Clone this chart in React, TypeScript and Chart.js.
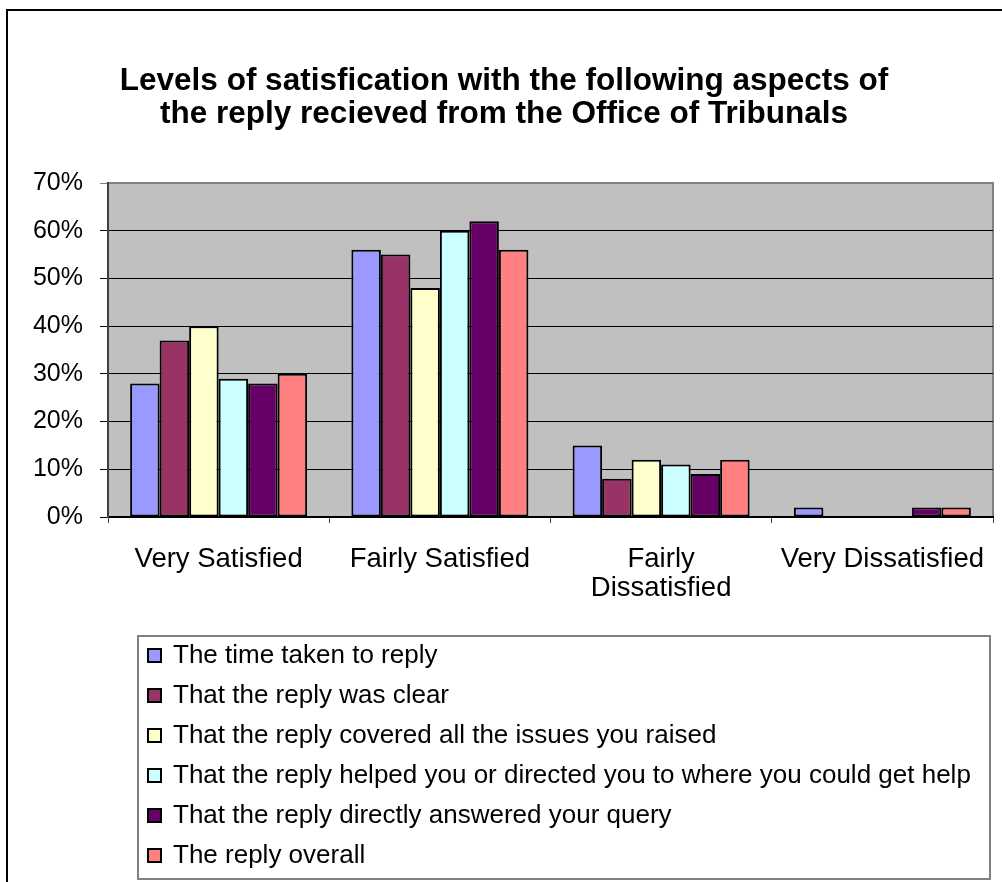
import React, { useEffect, useRef } from "react";
import { Chart, registerables } from "chart.js";

Chart.register(...registerables);

const categories: (string | string[])[] = [
  "Very Satisfied",
  "Fairly Satisfied",
  ["Fairly", "Dissatisfied"],
  "Very Dissatisfied",
];

const seriesLabels = [
  "The time taken to reply",
  "That the reply was clear",
  "That the reply covered all the issues you raised",
  "That the reply helped you or directed you to where you could get help",
  "That the reply directly answered your query",
  "The reply overall",
];

const seriesColors = ["#9999FF", "#993366", "#FFFFCC", "#CCFFFF", "#660066", "#FF8080"];

const timeTaken = [28, 56, 15, 2];
const replyClear = [37, 55, 8, 0];
const coveredIssues = [40, 48, 12, 0];
const helpedDirected = [29, 60, 11, 0];
const directlyAnswered = [28, 62, 9, 2];
const replyOverall = [30, 56, 12, 2];

const seriesValues = [timeTaken, replyClear, coveredIssues, helpedDirected, directlyAnswered, replyOverall];

const yTicks = [0, 10, 20, 30, 40, 50, 60, 70];

const titleLines = [
  "Levels of satisfication with the following aspects of",
  "the reply recieved from the Office of Tribunals",
];

const FONT = "'Liberation Sans', Arial, sans-serif";

export default function App() {
  const ref = useRef<HTMLCanvasElement | null>(null);

  useEffect(() => {
    if (!ref.current) return;

    const decor = {
      id: "decor",
      beforeDraw(chart: any) {
        const { ctx, chartArea } = chart;
        ctx.save();
        ctx.fillStyle = "#FFFFFF";
        ctx.fillRect(0, 0, chart.width, chart.height);
        // outer frame
        ctx.strokeStyle = "#000000";
        ctx.lineWidth = 2;
        ctx.strokeRect(7, 10, 1200, 1200);
        // plot background
        ctx.fillStyle = "#C0C0C0";
        ctx.fillRect(chartArea.left, chartArea.top, chartArea.right - chartArea.left, chartArea.bottom - chartArea.top);
        ctx.strokeStyle = "#808080";
        ctx.lineWidth = 2;
        ctx.strokeRect(chartArea.left, chartArea.top, chartArea.right - chartArea.left, chartArea.bottom - chartArea.top);
        ctx.restore();
      },
      afterDraw(chart: any) {
        const { ctx } = chart;
        ctx.save();
        // title
        ctx.fillStyle = "#000000";
        ctx.font = `bold 31.5px ${FONT}`;
        ctx.textAlign = "center";
        ctx.textBaseline = "middle";
        titleLines.forEach((t, i) => ctx.fillText(t, 504, 81 + i * 33));
        // legend
        ctx.strokeStyle = "#808080";
        ctx.lineWidth = 2;
        ctx.strokeRect(138, 636, 852, 243);
        ctx.font = `26px ${FONT}`;
        ctx.textAlign = "left";
        chart.data.datasets.forEach((ds: any, i: number) => {
          const cy = 655 + i * 40;
          ctx.fillStyle = ds.backgroundColor;
          ctx.fillRect(148, cy - 6, 13, 13);
          ctx.strokeStyle = "#000000";
          ctx.lineWidth = 2;
          ctx.strokeRect(148, cy - 6, 13, 13);
          ctx.fillStyle = "#000000";
          ctx.fillText(ds.label, 173, cy + 1);
        });
        ctx.restore();
      },
    };

    const chart = new Chart(ref.current, {
      type: "bar",
      plugins: [decor],
      data: {
        labels: categories,
        datasets: seriesLabels.map((label, i) => ({
          label,
          data: seriesValues[i],
          backgroundColor: seriesColors[i],
          borderColor: "#000000",
          borderWidth: 2,
          borderSkipped: false,
          categoryPercentage: 0.8,
          barPercentage: 1.0,
        })),
      },
      options: {
        responsive: false,
        animation: false,
        devicePixelRatio: 1,
        layout: { padding: { left: 0, right: 9, top: 183, bottom: 265 } },
        plugins: {
          legend: { display: false },
          title: { display: false },
          tooltip: { enabled: false },
        },
        scales: {
          x: {
            afterFit: (s: any) => {
              s.height = 100;
              s.paddingLeft = 0;
              s.paddingRight = 0;
            },
            grid: {
              offset: true,
              drawOnChartArea: false,
              tickLength: 6,
              color: "#404040",
              lineWidth: 1,
            },
            border: { color: "#000000", width: 2 },
            ticks: {
              color: "#000000",
              font: { family: FONT, size: 27.5, lineHeight: 1.06 },
              padding: 22,
              maxRotation: 0,
              autoSkip: false,
            },
          },
          y: {
            min: 0,
            max: 70,
            afterFit: (s: any) => {
              s.width = 108;
              s.paddingTop = 0;
              s.paddingBottom = 0;
            },
            afterBuildTicks: (s: any) => {
              s.ticks = yTicks.map((v) => ({ value: v }));
            },
            grid: {
              color: (c: any) => (c.tick && c.tick.value === 70 ? "#808080" : "#000000"),
              lineWidth: 1,
              tickLength: 8,
            },
            border: { color: "#404040", width: 2 },
            ticks: {
              color: "#000000",
              font: { family: FONT, size: 25 },
              padding: 17,
              callback: (v: any) => `${v}%`,
            },
          },
        },
      },
    });

    return () => chart.destroy();
  }, []);

  return (
    <div style={{ position: "fixed", left: 0, top: 0, width: 1002, height: 882, background: "#fff" }}>
      <canvas ref={ref} width={1002} height={882} style={{ display: "block" }} />
    </div>
  );
}
